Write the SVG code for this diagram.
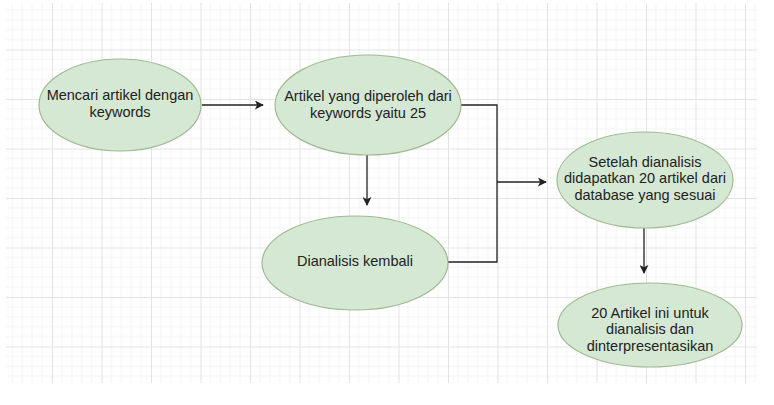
<svg xmlns="http://www.w3.org/2000/svg" width="774" height="405" viewBox="0 0 774 405">
  <style>
    .node ellipse { fill: #d5e8d4; stroke: #9fba90; stroke-width: 1.2; }
    .node text { font-family: "Liberation Sans", Arial, sans-serif; font-size: 14.5px; fill: #222; text-anchor: middle; }
    .edge { fill: none; stroke: #222; stroke-width: 1.3; }
  </style>
  <defs>
    <pattern id="grid" patternUnits="userSpaceOnUse" x="2.5" y="0" width="49.5" height="49.5">
      <path d="M9.9 0V49.5M19.8 0V49.5M29.7 0V49.5M39.6 0V49.5M0 9.9H49.5M0 19.8H49.5M0 29.7H49.5M0 39.6H49.5" stroke="#f3f3f3" stroke-width="1" fill="none"/>
      <path d="M0.5 0V49.5M0 0.5H49.5" stroke="#e3e3e3" stroke-width="1" fill="none"/>
    </pattern>
    <marker id="arrow" viewBox="0 0 10 10" refX="9" refY="5" markerWidth="9" markerHeight="9" markerUnits="userSpaceOnUse" orient="auto">
      <path d="M0 0L10 5L0 10L2.5 5Z" fill="#222"/>
    </marker>
  </defs>
  <rect width="774" height="405" fill="#ffffff"/>
  <rect x="6" y="3" width="751" height="380" fill="url(#grid)"/>

  <g id="connectors">
    <path class="edge" d="M202 105H263" marker-end="url(#arrow)"/>
    <path class="edge" d="M367 155V205" marker-end="url(#arrow)"/>
    <path class="edge" d="M461 105H497V262H448"/>
    <path class="edge" d="M497 182H546" marker-end="url(#arrow)"/>
    <path class="edge" d="M644 228V273" marker-end="url(#arrow)"/>
  </g>

  <g id="node1" class="node">
    <ellipse cx="120" cy="105" rx="81" ry="46"/>
    <text x="120" y="100">Mencari artikel dengan</text>
    <text x="120" y="117">keywords</text>
  </g>
  <g id="node2" class="node">
    <ellipse cx="368" cy="105" rx="93" ry="50"/>
    <text x="368" y="101">Artikel yang diperoleh dari</text>
    <text x="368" y="118">keywords yaitu 25</text>
  </g>
  <g id="node3" class="node">
    <ellipse cx="355" cy="263" rx="93" ry="47"/>
    <text x="355" y="266">Dianalisis kembali</text>
  </g>
  <g id="node4" class="node">
    <ellipse cx="645" cy="180" rx="88" ry="48"/>
    <text x="645" y="166.5">Setelah dianalisis</text>
    <text x="645" y="183">didapatkan 20 artikel dari</text>
    <text x="645" y="199.5">database yang sesuai</text>
  </g>
  <g id="node5" class="node">
    <ellipse cx="650" cy="325" rx="92" ry="42"/>
    <text x="650" y="317.5">20 Artikel ini untuk</text>
    <text x="650" y="334">dianalisis dan</text>
    <text x="650" y="350.5">dinterpresentasikan</text>
  </g>
</svg>
